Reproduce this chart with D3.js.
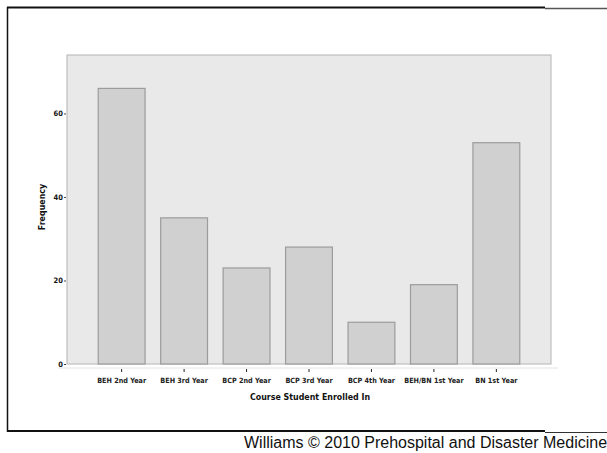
<!DOCTYPE html>
<html>
<head>
<meta charset="utf-8">
<script src="https://cdn.jsdelivr.net/npm/d3@7"></script>
<style>
  html, body { margin: 0; padding: 0; background: #fff; }
  svg { display: block; }
</style>
</head>
<body>
<svg id="chart" width="607" height="453"></svg>
<script>
const categories = ["BEH 2nd Year", "BEH 3rd Year", "BCP 2nd Year", "BCP 3rd Year", "BCP 4th Year", "BEH/BN 1st Year", "BN 1st Year"];
const frequencies = [66, 35, 23, 28, 10, 19, 53];
const yTicks = [0, 20, 40, 60];
const xTitle = "Course Student Enrolled In";
const yTitle = "Frequency";
const credit = "Williams \u00A9 2010 Prehospital and Disaster Medicine";

const svg = d3.select("#chart");
const plot = { left: 67, right: 551, top: 55, bottom: 364 };
const font = "'DejaVu Sans Condensed', 'DejaVu Sans', sans-serif";

// frame (scanned border)
svg.append("line").attr("x1", 7).attr("x2", 545).attr("y1", 7.5).attr("y2", 7.5).attr("stroke", "#111").attr("stroke-width", 2);
svg.append("line").attr("x1", 545).attr("x2", 607).attr("y1", 8.5).attr("y2", 8.5).attr("stroke", "#555").attr("stroke-width", 1.5);
svg.append("line").attr("x1", 7.5).attr("x2", 7.5).attr("y1", 7).attr("y2", 432).attr("stroke", "#111").attr("stroke-width", 1.5);
svg.append("line").attr("x1", 7).attr("x2", 545).attr("y1", 431).attr("y2", 431).attr("stroke", "#111").attr("stroke-width", 2);
svg.append("line").attr("x1", 545).attr("x2", 607).attr("y1", 432.5).attr("y2", 432.5).attr("stroke", "#333").attr("stroke-width", 1.2);

const x = d3.scaleBand().domain(categories).range([plot.left, plot.right]).paddingInner(0.25).paddingOuter(0.5);
const y = d3.scaleLinear().domain([0, 74]).range([plot.bottom, plot.top]);

// plot background
svg.append("rect")
  .attr("x", plot.left).attr("y", plot.top)
  .attr("width", plot.right - plot.left).attr("height", plot.bottom - plot.top)
  .attr("fill", "#e9e9e9").attr("stroke", "#b4b4b4").attr("stroke-width", 1);

// bars
svg.append("g").selectAll("rect").data(categories).join("rect")
  .attr("x", d => x(d))
  .attr("y", (d, i) => y(frequencies[i]))
  .attr("width", x.bandwidth())
  .attr("height", (d, i) => y(0) - y(frequencies[i]))
  .attr("fill", "#d0d0d0")
  .attr("stroke", "#9c9c9c")
  .attr("stroke-width", 1.2);

// faint x axis line
svg.append("line").attr("x1", 58).attr("x2", 558).attr("y1", 368).attr("y2", 368).attr("stroke", "#e4e4e4");

// x axis
const xAxis = d3.axisBottom(x).tickSize(3).tickPadding(6).tickSizeOuter(0);
const gx = svg.append("g").attr("transform", "translate(0,369)").call(xAxis);
gx.select(".domain").remove();
gx.selectAll(".tick line").attr("stroke", "#222");
gx.selectAll(".tick text").attr("font-family", font).attr("font-size", 7.2).attr("font-weight", "bold").attr("fill", "#222");

// y axis
const yAxis = d3.axisLeft(y).tickValues(yTicks).tickSize(2).tickPadding(1).tickFormat(d3.format("d"));
const gy = svg.append("g").attr("transform", `translate(${plot.left - 1},0)`).call(yAxis);
gy.select(".domain").remove();
gy.selectAll(".tick line").attr("stroke", "#444");
gy.selectAll(".tick text").attr("font-family", font).attr("font-size", 7.5).attr("font-weight", "bold").attr("fill", "#111");

// titles
svg.append("text").attr("x", (plot.left + plot.right) / 2 + 1).attr("y", 400)
  .attr("text-anchor", "middle").attr("font-family", font).attr("font-size", 8.8).attr("font-weight", "bold").attr("fill", "#111")
  .text(xTitle);
svg.append("text").attr("transform", "translate(45,207) rotate(-90)")
  .attr("text-anchor", "middle").attr("font-family", font).attr("font-size", 8.8).attr("font-weight", "bold").attr("fill", "#111")
  .text(yTitle);

// credit line
svg.append("text").attr("x", 244).attr("y", 447.5)
  .attr("font-family", "'Liberation Sans', Arial, sans-serif").attr("font-size", 16).attr("fill", "#111")
  .text(credit);
</script>
</body>
</html>
